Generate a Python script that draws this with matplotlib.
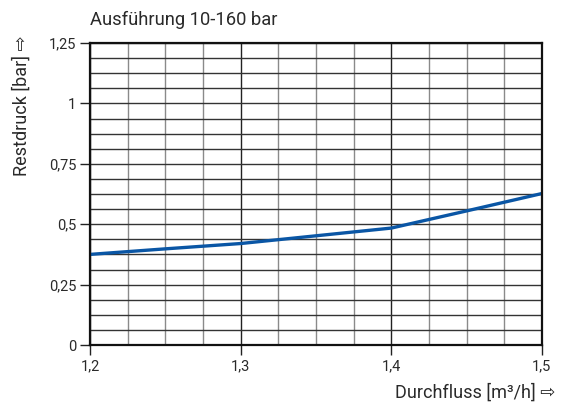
import numpy as np
import matplotlib.pyplot as plt
from matplotlib.ticker import MultipleLocator, FuncFormatter

plt.rcParams['font.family'] = ['Roboto', 'DejaVu Sans']

# curve
flow = [1.2, 1.25, 1.3, 1.35, 1.4, 1.45, 1.5]
pressure = [0.375, 0.398, 0.42, 0.452, 0.484, 0.555, 0.627]

x_ticks = [1.2, 1.3, 1.4, 1.5]
y_ticks = [0, 0.25, 0.5, 0.75, 1, 1.25]

fig = plt.figure(figsize=(5.71, 4.08), dpi=100)
ax = fig.add_axes([0.1576, 0.1544, 0.7915, 0.7402])

ax.set_xlim(1.2, 1.5)
ax.set_ylim(0, 1.25)

# grid: vertical every 0.025 (light), horizontal every 0.0625 (dark)
ax.xaxis.set_minor_locator(MultipleLocator(0.025))
ax.yaxis.set_minor_locator(MultipleLocator(0.0625))
ax.grid(which='minor', axis='x', color='#8a8a8a', lw=1.0)
ax.grid(which='major', axis='x', color='#222222', lw=1.0)
ax.grid(which='both', axis='y', color='#333333', lw=1.0)
ax.set_axisbelow(True)

ax.plot(flow, pressure, color='#0a56a5', lw=2.4, solid_capstyle='butt')

ax.set_xticks(x_ticks)
ax.set_yticks(y_ticks)
fmt = FuncFormatter(lambda v, p: ('%g' % v).replace('.', ','))
ax.xaxis.set_major_formatter(fmt)
ax.yaxis.set_major_formatter(fmt)
ax.tick_params(which='major', length=7, width=1, color='#222222',
               labelsize=10.5, labelcolor='#2a2a2a', pad=3)
ax.tick_params(which='minor', length=0)

for s in ax.spines.values():
    s.set_linewidth(1.6)
    s.set_color('#111111')

fig.text(0.1576, 0.951, 'Ausführung 10-160 bar', ha='left', va='center',
         fontsize=13.2, color='#2a2a2a')
fig.text(0.973, 0.037, 'Durchfluss [m³/h] ⇨', ha='right', va='center',
         fontsize=13, color='#2a2a2a')
fig.text(0.0385, 0.914, 'Restdruck [bar] ⇨', ha='center', va='top',
         rotation=90, fontsize=13, color='#2a2a2a')

fig.savefig('out.png', dpi=100)
